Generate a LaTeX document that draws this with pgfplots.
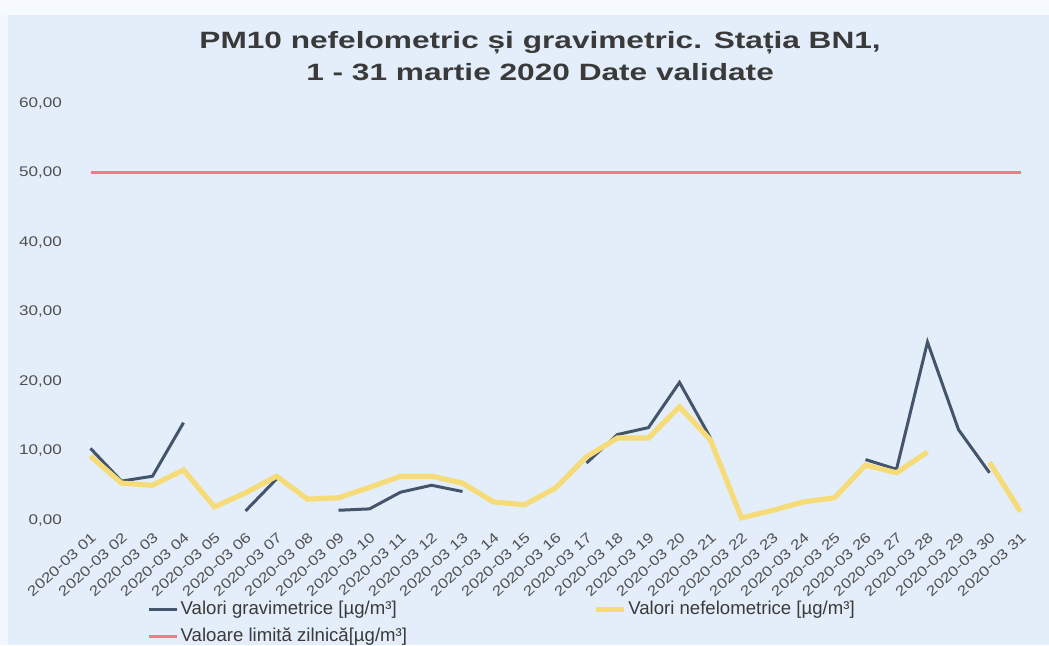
\documentclass[border=0pt]{standalone}
\usepackage{pgfplots}
\pgfplotsset{compat=1.18}
\usepackage{pgfplotstable}
\usepackage{fontspec}
\setmainfont{Liberation Sans}
\newfontfamily\widefont{Liberation Sans}[FakeStretch=1.22]
\newfontfamily\titlefont{Liberation Sans}[FakeStretch=1.34]
\definecolor{bg}{HTML}{E4EEFA}
\definecolor{grav}{HTML}{44546A}
\definecolor{nef}{HTML}{F6DC78}
\definecolor{lim}{HTML}{F2788A}
\definecolor{txt}{HTML}{505050}
\definecolor{ttl}{HTML}{3A3A3A}

\pgfplotstableread{
day grav nef lim
1 10.3 9.2 50
2 5.6 5.3 50
3 6.3 5.0 50
4 14.0 7.2 50
5 nan 1.9 50
6 1.3 3.9 50
7 5.9 6.3 50
8 nan 3.0 50
9 1.4 3.2 50
10 1.6 4.7 50
11 4.0 6.3 50
12 5.0 6.3 50
13 4.1 5.3 50
14 nan 2.6 50
15 nan 2.2 50
16 nan 4.6 50
17 8.2 9.1 50
18 12.3 11.8 50
19 13.3 11.8 50
20 19.8 16.3 50
21 11.8 11.5 50
22 nan 0.3 50
23 nan 1.4 50
24 nan 2.6 50
25 nan 3.2 50
26 8.7 7.9 50
27 7.3 6.8 50
28 25.6 9.8 50
29 13.0 nan 50
30 6.8 8.3 50
31 nan 1.2 50
}\datatable

\begin{document}
\begin{tikzpicture}
\path[use as bounding box] (0pt,0pt) rectangle (524.5pt,322.5pt);
\fill[bg] (0pt,0pt) rectangle (524.5pt,322.5pt);
\fill[white!65!bg] (0pt,315pt) rectangle (524.5pt,322.5pt);
\fill[white!50!bg] (0pt,0pt) rectangle (4pt,315pt);
\begin{axis}[
  at={(37.5pt,62.5pt)}, anchor=south west,
  scale only axis, width=480.5pt, height=208.5pt,
  xmin=0.5, xmax=31.5, ymin=0, ymax=60,
  ytick={0,10,...,60},
  xtick={1,...,31},
  xticklabels={2020-03 01,2020-03 02,2020-03 03,2020-03 04,2020-03 05,2020-03 06,2020-03 07,2020-03 08,2020-03 09,2020-03 10,2020-03 11,2020-03 12,2020-03 13,2020-03 14,2020-03 15,2020-03 16,2020-03 17,2020-03 18,2020-03 19,2020-03 20,2020-03 21,2020-03 22,2020-03 23,2020-03 24,2020-03 25,2020-03 26,2020-03 27,2020-03 28,2020-03 29,2020-03 30,2020-03 31},
  xticklabel style={rotate=42, anchor=north east, font=\widefont\fontsize{7}{8}\selectfont, text=txt, inner sep=0.5pt},
  xticklabel shift=5pt,
  yticklabel style={font=\widefont\fontsize{7}{9}\selectfont, text=txt, xshift=-3pt},
  /pgf/number format/.cd, fixed, fixed zerofill, precision=2, use comma, assume math mode=true,
  /pgfplots/.cd,
  axis line style={draw=none},
  major tick length=0pt,
  unbounded coords=jump,
  title={PM10 nefelometric și gravimetric. Stația BN1,\\1 - 31 martie 2020 Date validate},
  title style={align=center, font=\titlefont\bfseries\fontsize{11.8}{16}\selectfont, text=ttl, at={(axis description cs:0.484,1)}, anchor=south, yshift=1.5pt},
  legend style={at={(axis description cs:0.069,-0.180)}, anchor=north west, draw=none, fill=none,
    font=\fontsize{9.3}{11}\selectfont, text=ttl, legend columns=2, legend cell align=left,
    row sep=3pt, nodes={inner sep=1pt},
    /tikz/every even column/.append style={column sep=92pt}},
  legend image code/.code={\draw[#1] (0pt,0pt) -- (14pt,0pt);},
]
\addplot[grav, line width=1.5pt] table[x=day, y=grav] {\datatable};
\addlegendentry{Valori gravimetrice [µg/m³]}
\addplot[nef, line width=2.6pt] table[x=day, y=nef] {\datatable};
\addlegendentry{Valori nefelometrice [µg/m³]}
\addplot[lim, line width=1.4pt] table[x=day, y=lim] {\datatable};
\addlegendentry{Valoare limită zilnică[µg/m³]}
\end{axis}
\end{tikzpicture}
\end{document}
